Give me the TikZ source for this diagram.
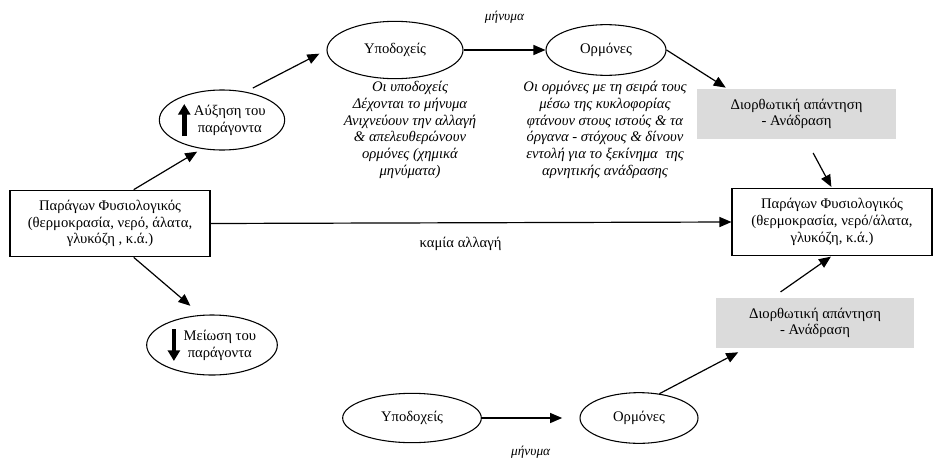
\documentclass[tikz,border=0pt]{standalone}
\usepackage{fontspec}
\setmainfont{Liberation Serif}
\usepackage{tikz}
\usetikzlibrary{arrows.meta,positioning,shapes.geometric}

% thick arrows inside the ovals
\newcommand{\arrup}{\tikz[baseline=-3pt]\draw[line width=3.4pt,-{Triangle[length=8pt,width=9pt]}] (0pt,-12pt) -- (0pt,12pt);}
\newcommand{\arrdown}{\tikz[baseline=-3pt]\draw[line width=3.4pt,-{Triangle[length=8pt,width=9pt]}] (0pt,12pt) -- (0pt,-12pt);}

\begin{document}
\begin{tikzpicture}[x=0.75pt, y=-0.75pt,
  font=\fontsize{11}{12.5}\selectfont,
  box/.style={draw, line width=0.8pt, minimum width=150pt, minimum height=50pt, align=center, inner sep=2pt},
  oval/.style={draw, ellipse, line width=0.8pt, inner sep=0pt, align=center},
  grey/.style={fill=black!14, minimum width=149pt, minimum height=37pt, align=center},
  note/.style={font=\fontsize{11}{12.5}\selectfont\itshape, align=center},
  link/.style={-{Triangle[length=9pt,width=7.5pt]}, line width=0.9pt}]
 \useasboundingbox (0,0) rectangle (934,464);

 % Start and end - the physiological factor
 \node[box] (pv1) at (110,223.5) {Παράγων Φυσιολογικός\\(θερμοκρασία, νερό, άλατα,\\γλυκόζη , κ.ά.)};
 \node[box] (pv2) at (832,222) {Παράγων Φυσιολογικός\\(θερμοκρασία, νερό/άλατα,\\γλυκόζη, κ.ά.)};

 % Top row - increase
 \node[oval, minimum width=94pt, minimum height=45pt] (incr) at (222,120) {\arrup\ \begin{tabular}{@{}c@{}}Αύξηση του\\παράγοντα\end{tabular}};
 \node[oval, minimum width=102pt, minimum height=43pt] (rec1) at (395,50) {Υποδοχείς};
 \node[oval, minimum width=90pt, minimum height=38pt] (horm1) at (606,50) {Ορμόνες};
 \node[note] (desc1) at (410,130) {Οι υποδοχείς\\Δέχονται το μήνυμα\\Ανιχνεύουν την αλλαγή\\\& απελευθερώνουν\\ορμόνες (χημικά\\μηνύματα)};
 \node[note] (desc2) at (605,130) {Οι ορμόνες με τη σειρά τους\\μέσω της κυκλοφορίας\\φτάνουν στους ιστούς \& τα\\όργανα - στόχους \& δίνουν\\εντολή για το ξεκίνημα\ \ της\\αρνητικής ανάδρασης};
 \node[grey] (resp1) at (796.5,114) {Διορθωτική απάντηση\\- Ανάδραση};

 % Bottom row - decrease
 \node[oval, minimum width=98pt, minimum height=45pt] (decr) at (212,345) {\arrdown\ \begin{tabular}{@{}c@{}}Μείωση του\\παράγοντα\end{tabular}};
 \node[oval, minimum width=104pt, minimum height=37pt] (rec2) at (412,418) {Υποδοχείς};
 \node[oval, minimum width=88.5pt, minimum height=38pt] (horm2) at (639,418) {Ορμόνες};
 \node[grey] (resp2) at (815,323) {Διορθωτική απάντηση\\- Ανάδραση};

 % Arrows - upper loop
 \draw[link, shorten >=4pt] (pv1.55) -- (incr.235);
 \draw[link, shorten <=6pt, shorten >=6pt] (incr.50) -- (rec1.west);
 \draw[link] (rec1.east) -- (horm1.west) node[midway, above=16pt, font=\itshape] (msg1) {μήνυμα};
 \draw[link, shorten >=2pt] (horm1.east) -- (resp1.160);
 \draw[link, shorten <=12pt, shorten >=1pt] (resp1.290) -- (pv2.north);

 % Arrows - no change
 \draw[link] (pv1.east) -- (pv2.west) node[pos=0.48, below=7pt] (nochg) {καμία αλλαγή};

 % Arrows - lower loop
 \draw[link, shorten >=10.5pt] (pv1.-55) -- (decr.110);
 \draw[link, shorten >=13pt] (rec2.east) -- (horm2.west) node[midway, below=17pt, font=\itshape] (msg2) {μήνυμα};
 \draw[link, shorten >=7pt] (horm2.50) -- (resp2.200);
 \draw[link, shorten <=8pt, shorten >=1pt] (resp2.150) -- (pv2.south);
\end{tikzpicture}
\end{document}
